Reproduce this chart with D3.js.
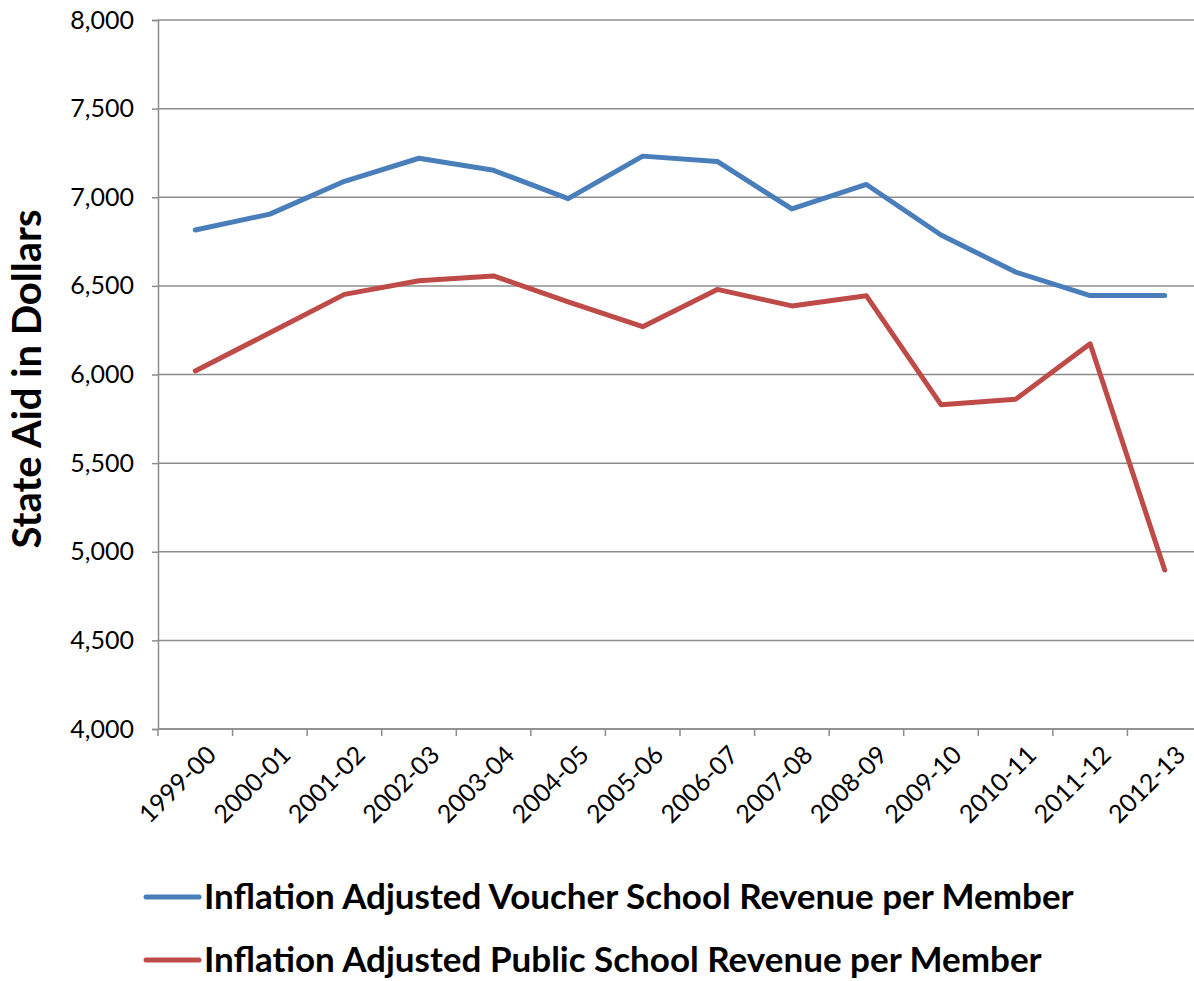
<!DOCTYPE html>
<html lang="en">
  <head>
    <meta charset="UTF-8" />
    <script src="https://d3js.org/d3.v7.min.js"></script>
    <style>
      body { margin: 0; background: #fff; }
      svg text { font-family: Lato, "Open Sans", sans-serif; fill: #000; }
    </style>
  </head>
  <body>
    <div id="chart"></div>
    <script>
      // school years on the x axis
      var years = ["1999-00", "2000-01", "2001-02", "2002-03", "2003-04", "2004-05", "2005-06",
                   "2006-07", "2007-08", "2008-09", "2009-10", "2010-11", "2011-12", "2012-13"];
      var voucher = [6815, 6905, 7090, 7220, 7152, 6992, 7232, 7202, 6934, 7072, 6787, 6578, 6445, 6445];
      var publicSchool = [6020, 6235, 6452, 6529, 6556, 6410, 6270, 6480, 6387, 6444, 5830, 5860, 6173, 4897];
      var yTicks = [4000, 4500, 5000, 5500, 6000, 6500, 7000, 7500, 8000];
      var seriesNames = ["Inflation Adjusted Voucher School Revenue per Member",
                         "Inflation Adjusted Public School Revenue per Member"];
      var seriesColors = ["#4a7ebb", "#be4b48"];

      var width = 1194, height = 981;
      var margin = { top: 20, left: 158 };
      var plotW = 1044, plotH = 709;

      var svg = d3.select("#chart").append("svg")
        .attr("width", width).attr("height", height);

      var x = d3.scaleBand().domain(years).range([margin.left, margin.left + plotW]);
      var y = d3.scaleLinear().domain([4000, 8000]).range([margin.top + plotH, margin.top]);

      // gridlines
      svg.append("g").selectAll("line").data(yTicks).enter().append("line")
        .attr("x1", margin.left).attr("x2", width)
        .attr("y1", d => y(d)).attr("y2", d => y(d))
        .attr("stroke", "#8c8c8c").attr("stroke-width", 1.5);

      // y axis
      var yAxis = svg.append("g")
        .attr("transform", "translate(" + margin.left + ",0)")
        .call(d3.axisLeft(y).tickValues(yTicks).tickSize(6).tickPadding(18).tickFormat(d3.format(",")));
      yAxis.select(".domain").attr("stroke", "#8c8c8c").attr("stroke-width", 1.5);
      yAxis.selectAll(".tick line").attr("stroke", "#8c8c8c").attr("stroke-width", 1.5);
      yAxis.selectAll("text").style("font-size", "25px").attr("fill", "#000");

      // x axis, ticks between categories
      var xAxis = svg.append("g").attr("transform", "translate(0," + y(4000) + ")");
      xAxis.append("line").attr("x1", margin.left).attr("x2", width)
        .attr("stroke", "#8c8c8c").attr("stroke-width", 1.5);
      var tickPos = years.map(d => x(d)).concat([x.range()[1]]);
      xAxis.selectAll("line.tick").data(tickPos).enter().append("line")
        .attr("class", "tick")
        .attr("x1", d => d).attr("x2", d => d).attr("y1", 0).attr("y2", 7)
        .attr("stroke", "#8c8c8c").attr("stroke-width", 1.5);
      xAxis.selectAll("text").data(years).enter().append("text")
        .attr("transform", d => "translate(" + (x(d) + x.bandwidth() / 2 + 10) + ",15) rotate(-45)")
        .attr("text-anchor", "end").attr("dy", "0.7em")
        .style("font-size", "25px")
        .text(d => d);

      // y axis title
      svg.append("text")
        .attr("transform", "translate(41,379) rotate(-90)")
        .attr("text-anchor", "middle")
        .style("font-size", "40px").style("font-weight", "bold")
        .text("State Aid in Dollars");

      // lines
      var line = d3.line()
        .x((d, i) => x(years[i]) + x.bandwidth() / 2)
        .y(d => y(d));
      [voucher, publicSchool].forEach(function (s, i) {
        svg.append("path").datum(s)
          .attr("d", line)
          .attr("fill", "none")
          .attr("stroke", seriesColors[i])
          .attr("stroke-width", 5)
          .attr("stroke-linejoin", "round")
          .attr("stroke-linecap", "round");
      });

      // legend
      var legend = svg.append("g");
      seriesNames.forEach(function (name, i) {
        var ly = 897 + i * 63;
        legend.append("line")
          .attr("x1", 146).attr("x2", 199).attr("y1", ly).attr("y2", ly)
          .attr("stroke", seriesColors[i]).attr("stroke-width", 5)
          .attr("stroke-linecap", "round");
        legend.append("text")
          .attr("x", 204).attr("y", ly).attr("dy", "0.33em")
          .style("font-size", "35px").style("font-weight", "bold")
          .text(name);
      });
    </script>
  </body>
</html>
